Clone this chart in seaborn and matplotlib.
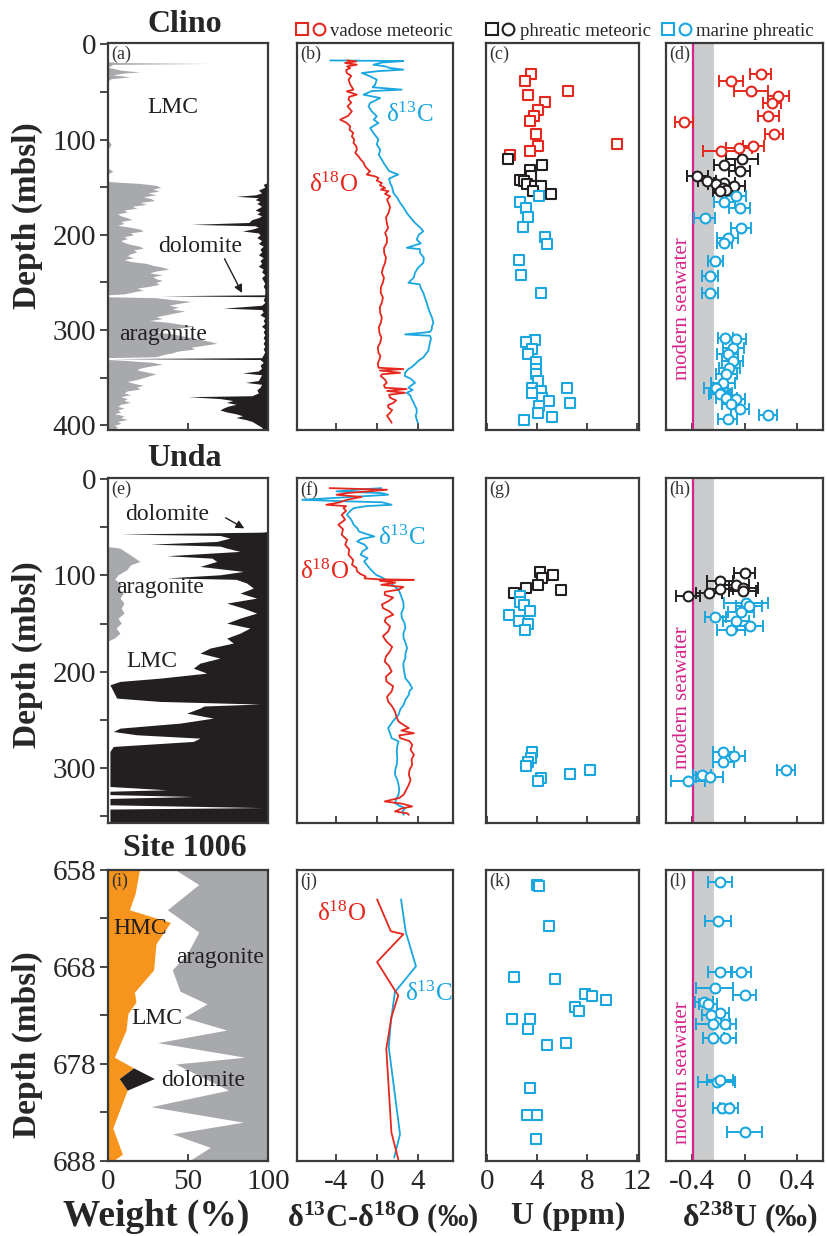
import numpy as np
import pandas as pd
import matplotlib
matplotlib.use("Agg")
import matplotlib.pyplot as plt
import seaborn as sns
from matplotlib.lines import Line2D
from matplotlib.legend_handler import HandlerTuple

# ---------------- DATA ----------------
# Clino (a) mineralogy, weight %
clino_arag_depth = [0, 18, 19, 20, 21, 24, 27, 29, 30, 32, 34, 36, 38, 100, 105, 110, 130, 133, 136, 144,
                    146, 148, 150, 152, 154, 156, 158, 160, 162, 164, 166, 168, 170, 172, 174, 176, 178, 180, 182, 184,
                    186, 188, 190, 192, 194, 196, 198, 200, 202, 204, 206, 208, 210, 212, 214, 216, 218, 220, 222, 224,
                    226, 228, 230, 232, 234, 236, 238, 240, 242, 244, 246, 248, 250, 252, 254, 256, 258, 260, 262, 263,
                    265, 266, 268, 270, 272, 274, 276, 278, 280, 282, 284, 286, 288, 290, 292, 294, 296, 298, 300, 302,
                    304, 306, 308, 310, 312, 314, 316, 318, 320, 322, 324, 326, 328, 329, 331, 332, 334, 336, 338, 340,
                    342, 344, 346, 348, 350, 352, 354, 356, 358, 360, 362, 364, 366, 368, 370, 372, 374, 376, 378, 380,
                    382, 384, 386, 388, 390, 392, 394, 396, 398, 400, 402, 405]
clino_arag_pct = [0, 0, 5, 62, 3, 0, 8, 20, 10, 3, 14, 2, 0, 0, 2, 0, 0, 3, 0, 0,
                  20, 30, 33, 28, 32, 25, 30, 22, 27, 29, 20, 24, 15, 18, 10, 12, 6, 8, 12, 15,
                  8, 10, 6, 14, 20, 22, 14, 16, 10, 12, 8, 10, 14, 20, 22, 16, 18, 14, 12, 16,
                  10, 14, 24, 28, 34, 38, 30, 26, 34, 28, 30, 34, 30, 32, 26, 18, 22, 16, 10, 0,
                  0, 30, 40, 52, 44, 38, 44, 40, 48, 42, 36, 30, 34, 26, 38, 46, 54, 44, 36, 30,
                  40, 46, 52, 58, 64, 68, 60, 52, 54, 44, 40, 34, 30, 0, 0, 12, 28, 34, 26, 20,
                  18, 24, 30, 26, 22, 18, 12, 16, 22, 18, 20, 12, 10, 14, 8, 12, 10, 14, 8, 6,
                  10, 6, 8, 4, 10, 8, 12, 6, 8, 4, 6, 3]
clino_dol_depth = [0, 100, 102, 104, 145, 147, 150, 153, 156, 158, 159.5, 161, 163, 165, 167, 170, 172, 174, 176, 178,
                   180, 182, 184, 187, 189, 190.5, 192, 194, 196, 198, 200, 203, 206, 209, 212, 215, 218, 221, 224, 227,
                   230, 233, 236, 239, 242, 245, 248, 251, 254, 257, 260, 263, 264, 265, 268, 271, 274, 277, 278.5, 281,
                   284, 287, 290, 293, 296, 299, 302, 305, 308, 311, 314, 317, 320, 323, 326, 329, 330, 331, 334, 337,
                   340, 343, 345, 347, 350, 353, 355, 357, 360, 363, 366, 369, 370, 372, 374, 376, 378, 380, 382, 384,
                   386, 388, 390, 392, 394, 396, 398, 400, 402, 405]
clino_dol_pct = [0, 0, 1, 0, 0, 3, 2, 6, 4, 8, 20, 6, 8, 5, 7, 4, 6, 8, 5, 7,
                 4, 6, 10, 12, 48, 8, 6, 10, 16, 6, 5, 7, 4, 6, 3, 5, 4, 6, 3, 5,
                 4, 6, 3, 4, 2, 4, 3, 2, 3, 2, 2, 2, 67, 2, 3, 2, 4, 28, 4, 3,
                 5, 2, 3, 2, 4, 2, 3, 2, 3, 2, 3, 2, 3, 2, 3, 4, 97, 5, 3, 5,
                 4, 6, 16, 4, 5, 6, 14, 4, 5, 7, 6, 10, 50, 30, 22, 26, 20, 25, 28, 30,
                 26, 20, 16, 20, 14, 10, 8, 6, 4, 3]

# Clino (b) stable isotopes
clino_o_depth = [16.8, 17.8, 19.5, 21.3, 23, 24.8, 27, 30.0, 33, 37.0, 42, 47.5, 49.3, 52.8, 55, 58.0, 61, 65.0, 70.3, 75,
                 79.0, 82.5, 86, 89.5, 93, 96.5, 100, 103.5, 107, 110.5, 114, 117.5, 121, 124, 128, 131, 133.2, 136.7, 138.5, 140.2,
                 143, 145.5, 148, 150.7, 152.5, 154.2, 157, 159.5, 163, 166.4, 171, 177, 182, 187.5, 193, 198, 203, 208.4, 214, 218.9,
                 224, 229.4, 235, 239.9, 245, 250.4, 255, 260.9, 266, 271.4, 276, 281.9, 287, 292.4, 297, 302.9, 308, 313.4, 318, 323.9,
                 327, 330.9, 335, 339.6, 341, 342.5, 344.9, 346.5, 348.4, 352, 355.4, 358, 360.6, 362, 364, 365.9, 368, 371.1, 374, 376.4,
                 379, 381.6, 384, 386.9, 390, 393.9, 397.4]
clino_o_val = [-2.9, -2.0, -3.1, -1.95, -2.9, -2.6, -3.0, -2.93, -2.5, -2.76, -2.6, -2.28, -2.93, -1.95, -2.7, -2.76, -2.5, -2.86, -2.44, -2.8,
               -3.58, -2.93, -2.6, -2.67, -2.3, -2.44, -2.2, -2.28, -2.0, -1.95, -2.1, -1.79, -1.56, -1.3, -1.14, -0.9, -0.65, -0.98, -0.2, 0.16,
               0.0, 0.49, 0.3, 0.81, 0.4, 1.14, 0.8, 1.30, 1.0, 1.14, 1.3, 1.14, 0.9, 0.98, 1.1, 0.81, 1.0, 0.98, 0.7, 0.72,
               0.9, 0.81, 0.6, 0.49, 0.7, 0.59, 0.4, 0.39, 0.6, 0.49, 0.3, 0.33, 0.5, 0.39, 0.2, 0.26, 0.45, 0.33, 0.1, 0.16,
               0.35, 0.26, 0.1, 0.16, 2.6, 0.3, 2.28, 0.5, 0.39, 0.8, 0.98, 0.7, 0.81, 2.9, 1.0, 2.76, 1.2, 1.30, 1.9, 1.63,
               1.1, 1.14, 1.5, 1.30, 1.0, 1.24, 1.46]
clino_c_depth = [16.8, 17.5, 19, 21.3, 23, 24.8, 26.5, 28, 30.0, 33.5, 37.0, 42.2, 45, 47.5, 49, 52.8, 56.3, 61.5, 65.0, 70.3,
                 75.5, 79, 82.5, 87.8, 93, 99.7, 105, 110.5, 116, 121, 125, 129.5, 133, 136.7, 138, 141, 145.5, 150, 156, 161,
                 166.4, 171, 177, 182, 187.5, 192, 196.2, 200, 205, 209, 213.6, 215, 218.9, 224, 229.4, 235, 239.9, 245, 250.4, 252,
                 256, 260.9, 266, 271.4, 276, 281.9, 287, 292.4, 296, 299.4, 302, 304.6, 306, 309, 313.4, 318, 321.8, 325, 328.8, 332,
                 335.8, 339, 341, 344.9, 348.4, 351, 355.4, 358, 360.6, 363, 365.9, 369, 372.9, 376, 379.9, 383, 386.9, 390, 393.9, 397.4]
clino_c_val = [-4.55, 2.6, 0.5, -0.33, 0.8, 1.30, 2.6, 0.2, -1.46, -0.65, 0.0, -0.16, -0.4, 2.44, -0.5, -1.30, 0.33, -0.65, -0.81, -0.49,
               0.0, -0.3, 0.16, -0.65, -0.33, 0.16, 0.0, 0.33, 0.2, 0.49, 0.7, 0.98, 1.2, 2.1, 1.79, 1.2, 1.30, 1.5, 1.63, 2.0,
               2.28, 2.6, 2.93, 3.3, 3.74, 4.2, 4.55, 4.1, 3.90, 4.3, 2.93, 4.2, 4.23, 4.6, 4.55, 4.0, 3.74, 3.6, 3.09, 4.2,
               4.3, 4.55, 4.7, 4.88, 5.0, 5.20, 5.4, 5.53, 5.4, 5.37, 5.2, 2.76, 5.2, 5.3, 5.20, 5.1, 5.04, 4.8, 4.55, 4.1,
               3.74, 3.4, 3.09, 2.76, 2.76, 3.3, 3.74, 3.4, 3.09, 3.5, 2.93, 3.3, 3.42, 3.6, 3.74, 3.9, 3.90, 3.8, 3.90, 4.0]

# Clino (c) U ppm and (d) d238U
clino_vad_depth = [30.7, 38.8, 49.3, 52.8, 60.8, 69.2, 75.5, 80.8, 93.7, 104.2, 106.3, 112.3, 115.7]
clino_vad_U = [3.55, 3.0, 6.49, 3.30, 4.63, 4.05, 3.75, 3.47, 3.88, 10.47, 4.05, 3.47, 1.84]
clino_phr_depth = [120.3, 126.6, 132.2, 138.5, 142, 143.7, 146.2, 149, 149, 154.2, 156.7]
clino_phr_U = [1.66, 4.43, 3.43, 3.55, 2.67, 2.92, 3.17, 3.80, 4.30, 3.68, 5.11]
clino_mar_depth = [158.8, 165.8, 171.7, 181.1, 191.6, 202.1, 209.5, 226.6, 242.7, 261.6, 310.6, 312.7, 319.6, 325.6, 333.7,
                   340.6, 346.6, 353.6, 360.6, 360.6, 364.1, 365.8, 371, 374.6, 377, 379.9, 386.8, 391, 394.9]
clino_mar_U = [4.18, 2.62, 3.12, 3.30, 2.87, 4.63, 4.81, 2.54, 2.72, 4.30, 3.80, 3.12, 3.62, 3.30, 3.92,
               3.88, 3.92, 4.05, 3.62, 6.39, 4.30, 3.62, 4.43, 4.94, 6.64, 4.13, 4.05, 5.18, 2.97]
clino_vadU_depth = [30.7, 38.8, 49.3, 53.8, 61.5, 75.5, 81.8, 94, 106.3, 108.7, 112.3]
clino_vadU_d238 = [0.124, -0.103, 0.048, 0.258, 0.212, 0.182, -0.462, 0.225, 0.066, -0.04, -0.179]
clino_vadU_err = [0.08, 0.09, 0.13, 0.08, 0.07, 0.08, 0.07, 0.07, 0.08, 0.1, 0.14]
clino_phrU_depth = [120.3, 126.2, 133.3, 138.5, 143.7, 145.5, 146.5, 149, 150.7, 153.2, 154.2]
clino_phrU_d238 = [-0.02, -0.154, -0.035, -0.361, -0.288, -0.154, -0.217, -0.078, -0.166, -0.141, -0.19]
clino_phrU_err = [0.12, 0.08, 0.08, 0.08, 0.07, 0.08, 0.06, 0.08, 0.07, 0.06, 0.05]
clino_marU_depth = [158.8, 165.8, 171.7, 182.2, 192.7, 203.2, 208.4, 227.7, 243.4, 261.6, 308.1, 309.9, 318.6, 325.6,
                    332.6, 339.6, 346.6, 355.4, 360.6, 365.8, 367.6, 371, 372.8, 378, 383.3, 389.6, 393.1]
clino_marU_d238 = [-0.065, -0.154, -0.035, -0.305, -0.027, -0.129, -0.154, -0.222, -0.262, -0.262, -0.146, -0.065, -0.086, -0.129,
                   -0.091, -0.116, -0.141, -0.166, -0.217, -0.179, -0.19, -0.141, -0.065, -0.103, -0.035, 0.182, -0.129]
clino_marU_err = [0.08, 0.08, 0.08, 0.08, 0.08, 0.08, 0.06, 0.06, 0.06, 0.06, 0.06, 0.08, 0.08, 0.08,
                  0.08, 0.08, 0.08, 0.09, 0.09, 0.08, 0.08, 0.08, 0.07, 0.07, 0.07, 0.07, 0.07]

# Unda (e) mineralogy
unda_dol_depth = [0, 54.5, 55.0, 57.0, 58.5, 61.2, 64.7, 67.5, 69.5, 71.6, 75.0, 79.5, 82, 85.4, 90.6, 95.8, 99.3, 102.5, 104, 107.9,
                  113.1, 118.3, 123.5, 128.7, 133.9, 139.1, 144.3, 149.5, 154.6, 159.9, 165.0, 170.2, 175.4, 180.6, 185.8, 191.0, 196.2,
                  201.4, 206.6, 210.0, 213.5, 220.4, 227.3, 230.8, 233.5, 235.5, 237.7, 242.9, 248.1, 253.3, 258.5, 262.0, 265.4, 268.9,
                  272.3, 277.5, 282.7, 306.9, 319.1, 322.5, 324, 327.5, 329.5, 331.5, 338.1, 341.0, 342.5, 357]
unda_dol_pct = [0, 0, 3.9, 92.5, 30, 23.8, 32.1, 73.8, 30, 25.8, 17.5, 63.3, 35, 32.1, 42.5, 15.4, 30.0, 63.3, 20, 13.3,
                9.2, 17.5, 7.1, 25.8, 15.4, 7.1, 17.5, 25.8, 11.3, 17.5, 25.8, 21.7, 36.3, 42.5, 30.0, 42.5, 46.7,
                38.3, 67.5, 92.5, 98.8, 96.7, 94.6, 67.5, 5.0, 40, 42.5, 50.8, 34.2, 55.0, 92.5, 96.7, 82.0, 42.5,
                46.7, 96.7, 98.8, 98.8, 98.8, 63.3, 98.8, 98.8, 46.7, 98.8, 98.8, 3.9, 98.8, 98.8]
unda_arag_depth = [0, 70, 71.6, 78.5, 85.4, 89, 94.1, 99.3, 104, 108.5, 113.1, 118.3, 123.5, 128.7, 133.9, 139.1, 144.3,
                   149.5, 154.6, 159.9, 165.0, 168, 357]
unda_arag_pct = [0, 0, 7.5, 13.8, 20.0, 14, 11.7, 6.3, 4.2, 8.3, 6.3, 9.6, 7.5, 10.0, 8.3, 10.0, 6.3,
                 8.3, 5.0, 7.5, 4.0, 0, 0]

# Unda (f) stable isotopes
unda_o_depth = [9.3, 11, 12.7, 14.5, 16.2, 18.5, 21.4, 24, 26.6, 28, 30.0, 33, 37.0, 42, 47.4, 52, 57.7, 63, 68.1, 73,
                78.5, 84, 88.9, 92, 95.8, 98.5, 101.0, 103.0, 104.0, 104.5, 105.5, 107.5, 109.7, 112, 114.8, 117, 120.0, 123, 126.9, 130,
                133.9, 137, 140.8, 144, 147.7, 153, 158.1, 163, 168.5, 174, 178.9, 184, 189.3, 194, 199.7, 205, 210.0, 215, 220.4, 226,
                230.8, 236, 241.2, 246, 251.6, 255, 258.5, 261, 263.8, 266, 268.9, 272, 275.8, 281, 286.2, 291, 296.6, 302, 306.9, 312,
                317.3, 322, 327.7, 331, 334.6, 337, 339.8, 342, 345.0, 347, 348.5]
unda_o_val = [-4.61, 1.0, -0.91, -3.0, -3.93, -1.5, -2.92, -3.6, -4.94, -3.0, -3.26, -3.0, -3.43, -3.1, -3.76, -3.3, -3.43, -2.9, -3.09, -2.7,
              -2.76, -2.3, -2.42, -2.0, -1.92, -1.6, -1.08, -1.2, 0.10, 3.63, 0.3, 1.8, 0.44, 2.6, 2.12, 0.8, 0.77, 1.6, 1.11, 0.5,
              0.61, 1.2, 1.61, 0.9, 0.77, 1.3, 1.11, 0.6, 0.94, 1.5, 1.28, 0.9, 0.77, 1.2, 1.45, 0.9, 0.94, 1.6, 1.45, 1.0,
              1.11, 1.5, 1.78, 1.9, 2.12, 2.6, 3.13, 2.4, 3.63, 2.2, 2.29, 3.2, 3.46, 3.3, 3.63, 3.4, 3.46, 3.2, 3.13, 3.3,
              3.13, 2.9, 2.62, 2.2, 0.77, 2.5, 3.46, 2.4, 1.78, 3.0, 3.13]
unda_c_depth = [9.3, 11, 12.7, 14.5, 16.2, 18.5, 21.4, 23, 24, 26.6, 28, 30.0, 33, 37.0, 42, 47.4, 51, 54.3, 57, 59.5,
                62, 64.7, 68, 71.6, 75, 78.5, 82, 85.4, 90, 94.1, 97, 99.3, 102, 106.2, 110, 114.8, 119, 123.5, 128, 133.9,
                139, 144.3, 149, 154.6, 160, 165.0, 170, 175.4, 181, 185.8, 191, 196.2, 201, 206.6, 212, 217.0, 220, 223.9, 229, 234.3,
                239, 244.7, 251, 258.5, 264, 268.9, 272.3, 277, 282.7, 290, 296.6, 302, 306.9, 312, 317.3, 322, 327.7, 332, 336.4, 339,
                341.6, 345, 348.5]
unda_c_val = [0.44, -2.0, -3.93, 0.5, 1.11, -2.5, -7.29, -3.0, 0.5, 1.45, -1.0, -2.25, -2.6, -2.92, -2.5, -2.25, -1.9, -1.75, -1.0, -0.24,
              -1.5, -1.92, -1.2, -0.91, -1.4, -1.58, -0.9, -1.24, -0.9, -0.57, -0.3, -0.07, 0.5, 1.11, 1.6, 2.12, 2.3, 2.45, 2.6, 2.62,
              2.4, 2.45, 2.7, 2.79, 2.6, 2.62, 2.8, 2.96, 2.8, 2.79, 2.6, 2.62, 2.7, 2.79, 3.2, 3.46, 3.2, 3.13, 2.8, 2.62,
              2.3, 2.12, 1.6, 1.11, 1.3, 1.45, 2.12, 2.0, 1.95, 2.0, 1.95, 1.8, 1.78, 2.0, 2.12, 2.2, 2.12, 1.9, 1.78, 2.2,
              2.79, 2.5, 2.62]

# Unda (g) U and (h) d238U
unda_phr_depth = [96.5, 100, 102.7, 110.4, 113.1, 114.8, 118.3]
unda_phr_U = [4.21, 5.31, 4.40, 4.08, 3.15, 5.90, 2.15]
unda_mar_depth = [121.8, 127.7, 131.1, 136.7, 140.8, 147, 150.5, 156.4, 283.4, 289, 293.8, 298.3, 301.8, 306.3, 310.4, 313.9]
unda_mar_U = [2.62, 2.62, 2.94, 3.47, 1.75, 2.55, 3.26, 3.0, 3.60, 3.53, 3.26, 3.15, 8.27, 6.69, 4.32, 4.05]
unda_phrU_depth = [97.9, 106.2, 109.7, 113.1, 113.8, 116.6, 118.3, 121.8]
unda_phrU_d238 = [0.0, -0.19, -0.065, -0.01, -0.19, -0.015, -0.27, -0.43]
unda_phrU_err = [0.08, 0.1, 0.1, 0.11, 0.1, 0.1, 0.1, 0.09]
unda_marU_depth = [128.7, 132.2, 138, 142.6, 147, 152.9, 156.4, 283.4, 287.9, 293.8, 301.8, 307, 309.7, 313.2]
unda_marU_d238 = [0.01, 0.036, -0.027, -0.222, -0.065, 0.041, -0.103, -0.161, -0.078, -0.161, 0.318, -0.323, -0.267, -0.432]
unda_marU_err = [0.17, 0.1, 0.1, 0.08, 0.1, 0.1, 0.11, 0.08, 0.08, 0.08, 0.07, 0.07, 0.1, 0.13]

# Site 1006 (i) mineralogy
site_min_depth = [658.0, 660.4, 662.1, 663.4, 665.6, 668.3, 670.6, 671.6, 672.8, 674.5, 677.3, 678.4, 679.5, 680.7, 684.6, 687.3, 688.0]
site_hmc_pct = [19.6, 17, 13.4, 39, 30, 28.5, 16.5, 17.5, 12.4, 11.3, 4, 16, 7, 12, 3, 9, 3]
site_dol_pct = [0, 0, 0, 0, 0, 0, 0, 0, 0, 0, 0, 0, 22, 0, 0, 0, 0]
site_arag_depth = [658, 659.5, 662.1, 664.4, 666.5, 668.3, 670.5, 671.8, 673.2, 674.5, 675.8, 677.3, 678.0, 680.7, 682.4,
                   684.0, 685.2, 686.6, 688]
site_arag_pct = [57.7, 43.3, 62.9, 43.3, 50, 59.8, 55, 38.1, 52.6, 25.8, 69.1, 14.4, 57.7, 24.7, 73.2,
                 15.5, 59.8, 36.1, 49.5]

# Site 1006 (j) isotopes
site_o_depth = [661.03, 664.31, 664.62, 667.48, 670.41, 670.93, 673.17, 676.44, 685.06, 687.82]
site_o_val = [0.03, 1.37, 2.6, 0.03, 1.77, 2.1, 1.43, 0.93, 1.43, 2.1]
site_c_depth = [661.03, 664.38, 667.93, 670.58, 673.69, 676.27, 685.24, 687.65]
site_c_val = [2.37, 2.83, 3.83, 1.77, 1.37, 1.17, 2.27, 1.7]

# Site 1006 (k) U and (l) d238U
site_U_depth = [659.55, 659.7, 663.8, 669.0, 669.2, 670.8, 671.0, 671.4, 672.1, 672.5, 673.4, 673.4, 674.4, 676.0, 675.8,
                680.5, 683.3, 683.3, 685.7]
site_U = [3.98, 4.18, 4.98, 2.19, 5.46, 7.88, 8.39, 9.58, 7.02, 7.39, 1.99, 3.41, 3.27, 4.83, 6.31,
          3.41, 3.18, 3.98, 3.89]
site_d238_depth = [659.2, 663.3, 668.5, 668.5, 670.2, 670.9, 671.6, 671.8, 672.7, 673.0, 673.9, 673.9, 675.3, 675.3,
                   679.9, 679.7, 682.5, 682.5, 685.0]
site_d238 = [-0.187, -0.205, -0.187, -0.027, -0.227, 0.0, -0.307, -0.28, -0.187, -0.253, -0.24, -0.147, -0.24, -0.147,
             -0.213, -0.187, -0.173, -0.12, 0.0]
site_d238_err = [0.093, 0.1, 0.09, 0.08, 0.14, 0.09, 0.07, 0.07, 0.07, 0.07, 0.13, 0.08, 0.08, 0.08,
                 0.14, 0.1, 0.07, 0.07, 0.13]

seawater_d238 = -0.395
seawater_band = (-0.39, -0.23)

# ---------------- STYLE ----------------
sns.set_style("white")
plt.rcParams["font.family"] = ["Liberation Serif", "DejaVu Serif"]
plt.rcParams["mathtext.fontset"] = "custom"
plt.rcParams["mathtext.rm"] = "Liberation Serif"
plt.rcParams["mathtext.it"] = "Liberation Serif:italic"
plt.rcParams["mathtext.bf"] = "Liberation Serif:bold"
plt.rcParams["axes.unicode_minus"] = False

RED = "#e5281e"
CYAN = "#1aa6df"
BLACK = "#231f20"
GREY = "#a8a9ac"
ORANGE = "#f7941d"
MAG = "#d6248a"
BAND = "#cbcccd"
SPINE = "#3a3a3a"

W, H = 827, 1236
fig = plt.figure(figsize=(W / 100, H / 100), dpi=100)

cols = {"a": (108, 268), "b": (297, 453), "c": (486, 639), "d": (666, 823)}
rows = [(43, 430), (478, 823), (870, 1161)]


def px_axes(col, row):
    l, r = cols[col]
    t, b = rows[row]
    return fig.add_axes([l / W, 1 - b / H, (r - l) / W, (b - t) / H])


def style(ax, xlim, ylim, xticks, xticklabels, show_xlabels, yticks=None, yticklabels=None):
    ax.set_xlim(*xlim)
    ax.set_ylim(*ylim)
    ax.set_xticks(xticks)
    ax.set_xticklabels(xticklabels)
    ax.tick_params(axis="x", direction="in", length=5, width=1.3, pad=6, labelsize=21,
                   bottom=True, top=False, labelbottom=show_xlabels, color=SPINE)
    if yticks is not None:
        ax.set_yticks(yticks)
        ax.set_yticklabels(yticklabels)
        ax.tick_params(axis="y", direction="out", length=5.5, width=1.3, pad=3, labelsize=21,
                       left=True, labelleft=True, color=SPINE)
    else:
        ax.set_yticks([])
    for s in ax.spines.values():
        s.set_linewidth(1.6)
        s.set_color(SPINE)
    ax.set_xlabel("")
    ax.set_ylabel("")


def letter(ax, s):
    ax.text(0.02, 0.992, s, transform=ax.transAxes, ha="left", va="top", fontsize=13, color="#333333")


def squares(ax, x, y, color):
    sns.scatterplot(x=x, y=y, marker="s", s=42, color="white", ax=ax, zorder=3, legend=False)
    c = ax.collections[-1]
    c.set_facecolor("white")
    c.set_edgecolor(color)
    c.set_linewidth(1.5)


def circles(ax, x, y, err, color):
    ax.errorbar(x, y, xerr=err, fmt="none", ecolor=color, elinewidth=1.4, capsize=4, capthick=1.4, zorder=2)
    sns.scatterplot(x=x, y=y, marker="o", s=50, color="white", ax=ax, zorder=3, legend=False)
    c = ax.collections[-1]
    c.set_facecolor("white")
    c.set_edgecolor(color)
    c.set_linewidth(1.5)


def seawater(ax, depth_text):
    ax.axvspan(seawater_band[0], seawater_band[1], color=BAND, lw=0, zorder=0)
    ax.axvline(seawater_d238, color=MAG, lw=1.6, zorder=1)
    ax.text(-0.472, depth_text, "modern seawater", rotation=90, ha="center", va="center",
            color=MAG, fontsize=15)


def iso_lines(ax, c_val, c_depth, o_val, o_depth):
    sns.lineplot(x=c_val, y=c_depth, orient="y", estimator=None, sort=True, color=CYAN, lw=1.3, ax=ax)
    sns.lineplot(x=o_val, y=o_depth, orient="y", estimator=None, sort=True, color=RED, lw=1.3, ax=ax)


def depth_label(ax, yfrac):
    ax.set_ylabel("Depth (mbsl)", fontsize=24, fontweight="bold")
    ax.yaxis.set_label_coords(-0.506, yfrac)
    ax.yaxis.label.set_va("center")
    ax.yaxis.label.set_ha("center")


def bottom_label(ax, text, size, xfrac):
    ax.set_xlabel(text, fontsize=size, fontweight="bold")
    ax.xaxis.set_label_coords(xfrac, -0.192)
    ax.xaxis.label.set_va("center")


D_LIM_B = (-7.8, 7.45)
U_LIM = (-0.1, 12.2)
d238_LIM = (-0.6, 0.6)
ANN = dict(ha="center", va="center", fontsize=17, color=BLACK)
ISO = dict(ha="center", va="center", fontsize=18)

# ---------------- ROW 1: Clino ----------------
ylim1 = (405, -1.5)
ax = px_axes("a", 0)
ax.fill_betweenx(clino_arag_depth, 0, clino_arag_pct, color=GREY, lw=0)
ax.fill_betweenx(clino_dol_depth, 100 - np.array(clino_dol_pct), 100, color=BLACK, lw=0)
style(ax, (0, 100), ylim1, [0, 50, 100], ["0", "50", "100"], False,
      list(range(0, 401, 50)), ["0", "", "100", "", "200", "", "300", "", "400"])
letter(ax, "(a)")
ax.text(40.6, 66.5, "LMC", **ANN)
ax.text(57.5, 212, "dolomite", **ANN)
ax.annotate("", xy=(84.6, 263.7), xytext=(72, 222.5),
            arrowprops=dict(arrowstyle="-|>", color=BLACK, lw=1.0, mutation_scale=12))
ax.text(34.6, 304.6, "aragonite", **ANN)
depth_label(ax, 0.553)

ax = px_axes("b", 0)
iso_lines(ax, clino_c_val, clino_c_depth, clino_o_val, clino_o_depth)
style(ax, D_LIM_B, ylim1, [-4, 0, 4], ["-4", "0", "4"], False)
letter(ax, "(b)")
ax.text(3.25, 73.8, "δ$^{13}$C", color=CYAN, **ISO)
ax.text(-4.23, 147.2, "δ$^{18}$O", color=RED, **ISO)

ax = px_axes("c", 0)
squares(ax, clino_vad_U, clino_vad_depth, RED)
squares(ax, clino_phr_U, clino_phr_depth, BLACK)
squares(ax, clino_mar_U, clino_mar_depth, CYAN)
style(ax, U_LIM, ylim1, [0, 4, 8, 12], ["0", "4", "8", "12"], False)
letter(ax, "(c)")

ax = px_axes("d", 0)
seawater(ax, 278)
circles(ax, clino_vadU_d238, clino_vadU_depth, clino_vadU_err, RED)
circles(ax, clino_phrU_d238, clino_phrU_depth, clino_phrU_err, BLACK)
circles(ax, clino_marU_d238, clino_marU_depth, clino_marU_err, CYAN)
style(ax, d238_LIM, ylim1, [-0.4, 0, 0.4], ["-0.4", "0", "0.4"], False)
letter(ax, "(d)")

# ---------------- ROW 2: Unda ----------------
ylim2 = (357, -1.2)
ax = px_axes("a", 1)
ax.fill_betweenx(unda_arag_depth, 0, unda_arag_pct, color=GREY, lw=0)
ax.fill_betweenx(unda_dol_depth, 100 - np.array(unda_dol_pct), 100, color=BLACK, lw=0)
style(ax, (0, 100), ylim2, [0, 50, 100], ["0", "50", "100"], False,
      list(range(0, 351, 50)), ["0", "", "100", "", "200", "", "300", ""])
letter(ax, "(e)")
ax.text(36.7, 37, "dolomite", **ANN)
ax.annotate("", xy=(86.7, 52.5), xytext=(72, 38.7),
            arrowprops=dict(arrowstyle="-|>", color=BLACK, lw=1.0, mutation_scale=12))
ax.text(32.5, 113, "aragonite", **ANN)
ax.text(27.3, 189.3, "LMC", **ANN)
depth_label(ax, 0.487)

ax = px_axes("b", 1)
iso_lines(ax, unda_c_val, unda_c_depth, unda_o_val, unda_o_depth)
style(ax, D_LIM_B, ylim2, [-4, 0, 4], ["-4", "0", "4"], False)
letter(ax, "(f)")
ax.text(2.4, 61.2, "δ$^{13}$C", color=CYAN, **ISO)
ax.text(-5.1, 95.8, "δ$^{18}$O", color=RED, **ISO)

ax = px_axes("c", 1)
squares(ax, unda_phr_U, unda_phr_depth, BLACK)
squares(ax, unda_mar_U, unda_mar_depth, CYAN)
style(ax, U_LIM, ylim2, [0, 4, 8, 12], ["0", "4", "8", "12"], False)
letter(ax, "(g)")

ax = px_axes("d", 1)
seawater(ax, 227)
circles(ax, unda_phrU_d238, unda_phrU_depth, unda_phrU_err, BLACK)
circles(ax, unda_marU_d238, unda_marU_depth, unda_marU_err, CYAN)
style(ax, d238_LIM, ylim2, [-0.4, 0, 0.4], ["-0.4", "0", "0.4"], False)
letter(ax, "(h)")

# ---------------- ROW 3: Site 1006 ----------------
ylim3 = (688, 658)
ax = px_axes("a", 2)
hmc = np.array(site_hmc_pct)
dol = np.array(site_dol_pct)
ax.fill_betweenx(site_min_depth, 0, hmc, color=ORANGE, lw=0)
ax.fill_betweenx(site_min_depth, hmc, hmc + dol, color=BLACK, lw=0)
ax.fill_betweenx(site_arag_depth, 100 - np.array(site_arag_pct), 100, color=GREY, lw=0)
style(ax, (0, 100), ylim3, [0, 50, 100], ["0", "50", "100"], True,
      list(range(658, 689, 5)), ["658", "", "668", "", "678", "", "688"])
letter(ax, "(i)")
ax.text(20, 664, "HMC", **ANN)
ax.text(70, 667, "aragonite", **ANN)
ax.text(30.4, 673.3, "LMC", **ANN)
ax.text(59.6, 679.7, "dolomite", **ANN)
depth_label(ax, 0.399)
bottom_label(ax, "Weight (%)", 27, 0.30)

ax = px_axes("b", 2)
iso_lines(ax, site_c_val, site_c_depth, site_o_val, site_o_depth)
style(ax, D_LIM_B, ylim3, [-4, 0, 4], ["-4", "0", "4"], True)
letter(ax, "(j)")
ax.text(-3.4, 662.5, "δ$^{18}$O", color=RED, **ISO)
ax.text(5.1, 670.75, "δ$^{13}$C", color=CYAN, **ISO)
bottom_label(ax, r"δ$^{\mathbf{13}}$C-δ$^{\mathbf{18}}$O (‰)", 22, 0.55)

ax = px_axes("c", 2)
squares(ax, site_U, site_U_depth, CYAN)
style(ax, U_LIM, ylim3, [0, 4, 8, 12], ["0", "4", "8", "12"], True)
letter(ax, "(k)")
bottom_label(ax, "U (ppm)", 23, 0.536)

ax = px_axes("d", 2)
seawater(ax, 678.9)
circles(ax, site_d238, site_d238_depth, site_d238_err, CYAN)
style(ax, d238_LIM, ylim3, [-0.4, 0, 0.4], ["-0.4", "0", "0.4"], True)
letter(ax, "(l)")
bottom_label(ax, r"δ$^{\mathbf{238}}$U (‰)", 23, 0.535)

# ---------------- Titles & legend ----------------
for txt, y in [("Clino", 24), ("Unda", 459), ("Site 1006", 849)]:
    fig.text(185 / W, 1 - y / H, txt, ha="center", va="center", fontsize=23, fontweight="bold")

hm = {tuple: HandlerTuple(ndivide=None, pad=0.3)}
for lab, col, x0 in [("vadose meteoric", RED, 296), ("phreatic meteoric", BLACK, 486), ("marine phreatic", CYAN, 662)]:
    sq = Line2D([], [], marker="s", ls="none", mfc="white", mec=col, mew=1.5, ms=8)
    ci = Line2D([], [], marker="o", ls="none", mfc="white", mec=col, mew=1.5, ms=8.5)
    fig.legend(handles=[(sq, ci)], labels=[lab], handler_map=hm, loc="center left",
               bbox_to_anchor=(x0 / W, 1 - 31 / H), frameon=False, fontsize=13.5,
               handlelength=1.5, handletextpad=0.3, borderpad=0, borderaxespad=0)

fig.savefig("out.png", dpi=100, facecolor="white")
